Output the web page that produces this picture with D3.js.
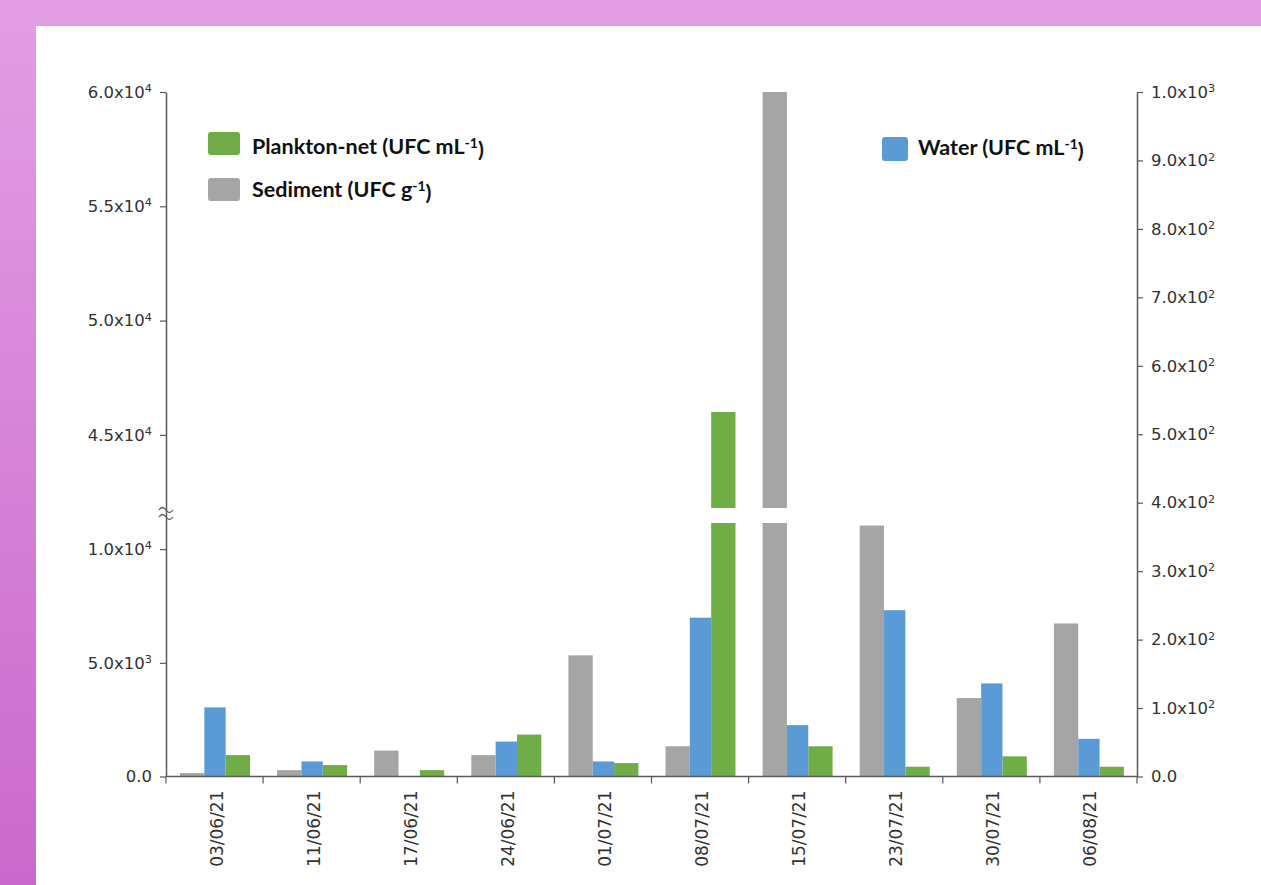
<!DOCTYPE html>
<html>
<head>
<meta charset="utf-8">
<script src="https://cdn.jsdelivr.net/npm/d3@7"></script>
<style>
  html, body { margin: 0; padding: 0; background: #e09ae2; }
  svg { display: block; }
</style>
</head>
<body>
<script>
// ---------- DATA ----------
const dates = ["03/06/21","11/06/21","17/06/21","24/06/21","01/07/21","08/07/21","15/07/21","23/07/21","30/07/21","06/08/21"];
const sediment = [150, 280, 1140, 940, 5330, 1330, 60000, 11040, 3450, 6730];   // UFC g-1 (left axis)
const water    = [101, 22, 0, 51, 22, 232, 75, 243, 136, 55];                    // UFC mL-1 (right axis)
const plankton = [940, 500, 280, 1845, 590, 46000, 1330, 430, 887, 430];        // UFC mL-1 (left axis)
const leftTicks  = [0, 5000, 10000, 45000, 50000, 55000, 60000];
const rightTicks = [0, 100, 200, 300, 400, 500, 600, 700, 800, 900, 1000];
const seriesNames = ["sediment", "water", "plankton"];
const legendLabels = {
  plankton: ["Plankton-net (UFC mL", "-1", ")"],
  sediment: ["Sediment (UFC g", "-1", ")"],
  water:    ["Water (UFC mL", "-1", ")"]
};

// ---------- LAYOUT ----------
const W = 1261, H = 885;
const colors = { sediment: "#a5a5a5", water: "#5b9bd5", plankton: "#70ad47" };
const brkLo = 11150, brkHi = 41800;

const svg = d3.select("body").append("svg").attr("width", W).attr("height", H);

// background
const defs = svg.append("defs");
const g1 = defs.append("linearGradient").attr("id", "bg").attr("x1", 0).attr("y1", 0).attr("x2", 0).attr("y2", 1);
g1.append("stop").attr("offset", "0%").attr("stop-color", "#e39ee4");
g1.append("stop").attr("offset", "100%").attr("stop-color", "#ca69cc");
svg.append("rect").attr("width", W).attr("height", H).attr("fill", "url(#bg)");
svg.append("rect").attr("x", 36).attr("y", 26).attr("width", W - 36).attr("height", H - 26).attr("fill", "#ffffff");

// scales
const x = d3.scaleBand().domain(dates).range([166, 1137]).paddingInner(0).paddingOuter(0);
const xs = d3.scaleBand().domain(seriesNames).range([14, 84]);
const yL = d3.scaleLinear().domain([0, brkLo, brkHi, 60000]).range([776.5, 523, 508, 92]);
const yR = d3.scaleLinear().domain([0, 1000]).range([776.5, 92]);

function segments(v) {
  if (v <= brkLo) return [[0, v]];
  return [[0, brkLo], [brkHi, v]];
}

const plot = svg.append("g");
const leftSeries = { sediment, plankton };
Object.keys(leftSeries).forEach(name => {
  const rects = [];
  leftSeries[name].forEach((v, i) => {
    if (v > 0) segments(v).forEach(s => rects.push({ date: dates[i], a: s[0], b: s[1] }));
  });
  plot.selectAll(null).data(rects).join("rect")
    .attr("x", d => x(d.date) + xs(name) + (name === "sediment" ? 0 : -1))
    .attr("width", xs.bandwidth() + 1)
    .attr("y", d => yL(d.b))
    .attr("height", d => yL(d.a) - yL(d.b))
    .attr("fill", colors[name]);
});
plot.selectAll(null).data(water.map((v, i) => ({ date: dates[i], v })).filter(d => d.v > 0)).join("rect")
  .attr("x", d => x(d.date) + xs("water") + 1)
  .attr("width", xs.bandwidth() - 2)
  .attr("y", d => yR(d.v))
  .attr("height", d => yR(0) - yR(d.v))
  .attr("fill", colors.water);

// tick formatting with superscript
function sciLabel(sel) {
  sel.each(function(d) {
    const t = d3.select(this);
    t.text(null);
    if (d === 0) { t.text("0.0"); return; }
    const e = Math.floor(Math.log10(d));
    const m = (d / Math.pow(10, e)).toFixed(1);
    t.append("tspan").text(m + "x10");
    t.append("tspan").attr("dy", "-0.5em").attr("font-size", "0.68em").text(e);
  });
}

const axisColor = "#595959";
const textColor = "#333333";

const axL = svg.append("g").attr("transform", "translate(166,0)")
  .call(d3.axisLeft(yL).tickValues(leftTicks).tickSize(6).tickPadding(8).tickSizeOuter(0));
const axR = svg.append("g").attr("transform", "translate(1137,0)")
  .call(d3.axisRight(yR).tickValues(rightTicks).tickSize(6).tickPadding(8).tickSizeOuter(0));
[axL, axR].forEach(ax => {
  ax.select(".domain").attr("stroke", axisColor).attr("stroke-width", 1.5);
  ax.selectAll(".tick line").attr("stroke", axisColor).attr("stroke-width", 1.2);
  ax.selectAll(".tick text")
    .attr("font-family", "DejaVu Sans, sans-serif").attr("font-size", 16.5)
    .attr("fill", textColor).call(sciLabel);
});

// break symbol on the left axis
const brk = svg.append("g").attr("fill", "none").attr("stroke", axisColor).attr("stroke-width", 1.3);
[509, 516].forEach(yy => {
  brk.append("path").attr("d", `M159,${yy + 1} q3.5,-5 7,0 t7,0`);
});

// x axis
const axX = svg.append("g").attr("transform", "translate(0,776.5)");
axX.append("line").attr("x1", 166).attr("x2", 1137).attr("stroke", axisColor).attr("stroke-width", 1.5);
const bounds = dates.map(d => x(d)).concat([x(dates[dates.length - 1]) + x.bandwidth()]);
axX.selectAll(null).data(bounds).join("line")
  .attr("x1", d => d).attr("x2", d => d).attr("y1", 0).attr("y2", 7)
  .attr("stroke", axisColor).attr("stroke-width", 1.2);
axX.selectAll(null).data(dates).join("text")
  .attr("transform", d => `translate(${x(d) + x.bandwidth() / 2 + 2},14) rotate(-90)`)
  .attr("text-anchor", "end").attr("dy", "0.35em")
  .attr("font-family", "DejaVu Sans, sans-serif").attr("font-size", 17)
  .attr("fill", textColor)
  .text(d => d);

// legend
const legendItems = [
  { key: "plankton", rx: 208, ry: 132, rw: 32, rh: 23, tx: 252, ty: 154 },
  { key: "sediment", rx: 208, ry: 178, rw: 32, rh: 23, tx: 252, ty: 197 },
  { key: "water",    rx: 882, ry: 137, rw: 26, rh: 24, tx: 918, ty: 155 }
];
const leg = svg.append("g");
legendItems.forEach(it => {
  leg.append("rect").attr("x", it.rx).attr("y", it.ry).attr("width", it.rw).attr("height", it.rh)
    .attr("rx", 3).attr("fill", colors[it.key]);
  const lab = legendLabels[it.key];
  const t = leg.append("text").attr("x", it.tx).attr("y", it.ty)
    .attr("font-family", "Lato, sans-serif").attr("font-weight", "bold").attr("font-size", 21.5)
    .attr("fill", "#111");
  t.append("tspan").text(lab[0]);
  t.append("tspan").attr("dy", "-0.45em").attr("font-size", "0.65em").text(lab[1]);
  t.append("tspan").attr("dy", "0.45em").text(lab[2]);
});
</script>
</body>
</html>
